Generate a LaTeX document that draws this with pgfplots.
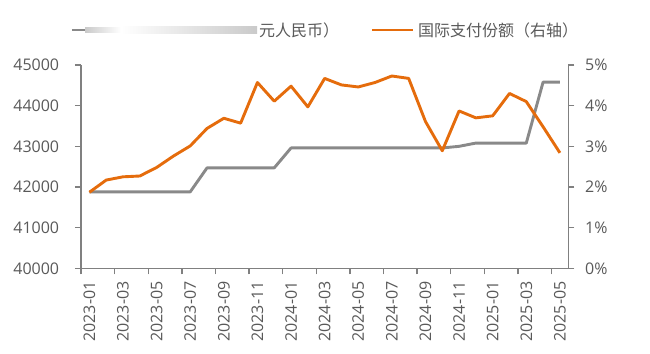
\documentclass[border=0pt]{standalone}
\usepackage{pgfplots}
\pgfplotsset{compat=1.18}
\usepackage{pgfplotstable}
\usepackage{fontspec}
\setmainfont{Open Sans}
\newfontfamily\cjk{Noto Sans CJK SC}
\definecolor{axisgray}{RGB}{128,128,128}
\definecolor{txtgray}{RGB}{89,89,89}
\definecolor{sergray}{RGB}{137,137,137}
\definecolor{serorange}{RGB}{229,108,12}

\pgfplotstableread{
x gray orange
0 41880 1.87
1 41880 2.17
2 41880 2.25
3 41880 2.27
4 41880 2.48
5 41880 2.76
6 41880 3.01
7 42470 3.44
8 42470 3.69
9 42470 3.57
10 42470 4.57
11 42470 4.11
12 42960 4.48
13 42960 3.97
14 42960 4.67
15 42960 4.51
16 42960 4.46
17 42960 4.57
18 42960 4.73
19 42960 4.67
20 42960 3.61
21 42960 2.89
22 43000 3.87
23 43080 3.70
24 43080 3.75
25 43080 4.30
26 43080 4.10
27 44580 3.48
28 44580 2.84
}\datatable

\newcommand{\lblfont}{\fontsize{16bp}{19bp}\selectfont}

\begin{document}
\begin{tikzpicture}
\useasboundingbox (-81bp,-85.7bp) rectangle (569bp,268.3bp);
\begin{axis}[
  at={(0,0)}, anchor=south west, scale only axis,
  width=487.3bp, height=203.3bp,
  xmin=-0.5, xmax=28.5, ymin=40000, ymax=45000,
  axis x line*=bottom, axis y line*=left,
  axis line style={draw=axisgray, line width=1.4bp, -},
  tick style={draw=axisgray, line width=1.4bp},
  tick align=outside, major tick length=6bp,
  ytick={40000,41000,...,45000},
  scaled y ticks=false,
  yticklabel style={/pgf/number format/set thousands separator={}, /pgf/number format/assume math mode=true, font=\lblfont, text=txtgray, inner sep=0pt},
  yticklabel shift=15.7bp,
  xtick={0,2,...,28},
  xticklabels={2023-01,2023-03,2023-05,2023-07,2023-09,2023-11,2024-01,2024-03,2024-05,2024-07,2024-09,2024-11,2025-01,2025-03,2025-05},
  xticklabel style={rotate=90, anchor=east, inner sep=0pt, text=txtgray, font=\lblfont},
  xticklabel shift=7bp,
  xtick style={draw=none},
  extra x ticks={-0.5,1.5,...,27.5},
  extra x tick labels={},
  extra x tick style={xtick style={draw=axisgray, line width=1.4bp}},
  clip=false,
]
\addplot[sergray, line width=2.9bp, line join=round, no markers] table[x=x,y=gray]{\datatable};
\end{axis}
\begin{axis}[
  at={(0,0)}, anchor=south west, scale only axis,
  width=487.3bp, height=203.3bp,
  xmin=-0.5, xmax=28.5, ymin=0, ymax=5,
  axis x line=none, axis y line*=right,
  axis line style={draw=axisgray, line width=1.4bp, -},
  tick style={draw=axisgray, line width=1.4bp},
  tick align=outside, major tick length=6bp,
  ytick={0,1,...,5},
  yticklabel={\pgfmathprintnumber{\tick}\%},
  yticklabel style={/pgf/number format/assume math mode=true, font=\lblfont, text=txtgray, inner sep=0pt},
  yticklabel shift=10.7bp,
  clip=false,
]
\addplot[serorange, line width=2.9bp, line join=round, no markers] table[x=x,y=orange]{\datatable};
\end{axis}
% legend
\draw[sergray, line width=2.9bp] (-9bp,238.3bp) -- (4bp,238.3bp);
\shade[left color=sergray!45, right color=white] (4bp,235.5bp) rectangle (40bp,241.1bp);
\shade[left color=white, right color=sergray!45] (40bp,234.5bp) rectangle (176bp,242.1bp);
\node[anchor=west, inner sep=0pt, text=txtgray, font=\cjk\lblfont] at (178bp,238.3bp) {元人民币）};
\draw[serorange, line width=2.9bp] (291bp,238.3bp) -- (332bp,238.3bp);
\node[anchor=west, inner sep=0pt, text=txtgray, font=\cjk\lblfont] at (337bp,238.3bp) {国际支付份额（右轴）};
\end{tikzpicture}
\end{document}
